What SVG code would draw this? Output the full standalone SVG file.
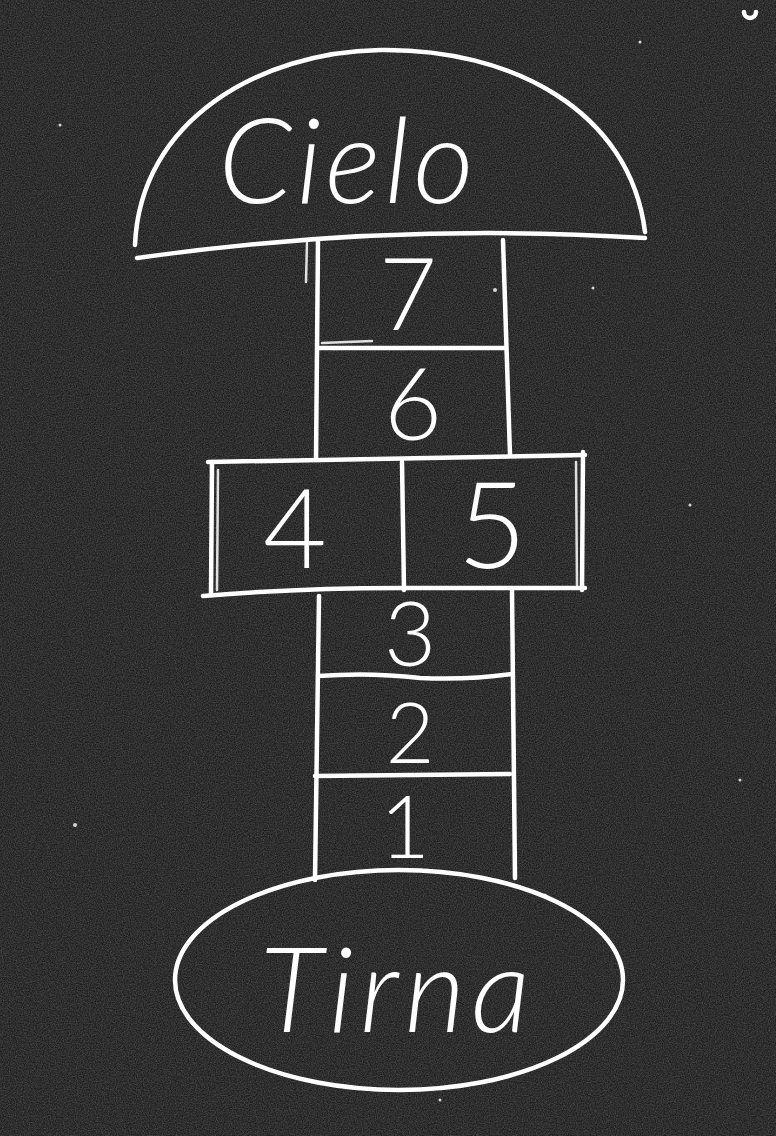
<svg xmlns="http://www.w3.org/2000/svg" width="776" height="1136" viewBox="0 0 776 1136">
<defs>
<filter id="grain" x="0" y="0" width="100%" height="100%">
<feTurbulence type="fractalNoise" baseFrequency="0.85" numOctaves="2" seed="3" result="n"/>
<feColorMatrix in="n" type="matrix" values="0 0 0 0 1  0 0 0 0 1  0 0 0 0 1  0 0 0 0.3 -0.08"/>
</filter>
</defs>
<style>
.chalk{fill:none;stroke:#fff;stroke-width:4.5;stroke-linecap:round;stroke-linejoin:round}
.thin{fill:none;stroke:#fff;stroke-width:2.5;stroke-linecap:round;opacity:.85}
.num{fill:#fff;font-family:"Lato","Open Sans","DejaVu Sans",sans-serif;font-weight:300;text-anchor:middle}
.word{fill:#fff;font-family:"Lato","Open Sans","DejaVu Sans",sans-serif;font-weight:300;font-style:italic;text-anchor:middle}
.speck{fill:#fff;opacity:.8}
</style>
<rect width="776" height="1136" fill="#1f1f1f"/>
<rect width="776" height="1136" filter="url(#grain)"/>
<g id="specks">
<circle class="speck" cx="296" cy="63" r="1.5"/>
<circle class="speck" cx="60" cy="125" r="1.5"/>
<circle class="speck" cx="640" cy="42" r="1.5"/>
<circle class="speck" cx="75" cy="825" r="2"/>
<circle class="speck" cx="690" cy="505" r="1.5"/>
<circle class="speck" cx="545" cy="895" r="1.5"/>
<circle class="speck" cx="593" cy="288" r="1.5"/>
<circle class="speck" cx="440" cy="1100" r="1.5"/>
<circle class="speck" cx="495" cy="290" r="2"/>
<circle class="speck" cx="740" cy="780" r="1.5"/>
</g>
<path class="chalk" d="M744,12 A6,6 0 0 0 756,12" stroke-width="3"/>
<g id="cielo">
<path class="chalk" d="M135,245 C140,120 260,52 380,50 C510,48 630,110 645,232"/>
<path class="chalk" d="M137,258 Q390,222 645,238" stroke-width="5.5"/>
<text class="word" x="348" y="203" font-size="118" letter-spacing="4">Cielo</text>
</g>
<g id="column">
<path class="chalk" d="M318,240 L316,460"/>
<path class="chalk" d="M319,596 L315,880"/>
<path class="thin" d="M307,242 L306,282"/>
<path class="chalk" d="M503,240 L510,455"/>
<path class="chalk" d="M512,590 L515,878"/>
</g>
<g id="cell7">
<path class="chalk" d="M318,348 L505,348" stroke-width="3.5"/>
<path class="thin" d="M322,343 L372,341"/>
<text class="num" x="408" y="330" font-size="100">7</text>
</g>
<g id="cell6">
<text class="num" x="413" y="440" font-size="100">6</text>
</g>
<g id="cell45">
<path class="chalk" d="M208,462 L585,455" stroke-width="5.5"/>
<path class="chalk" d="M212,462 L211,595"/>
<path class="thin" d="M218,470 L217,590"/>
<path class="chalk" d="M583,452 L582,590"/>
<path class="thin" d="M576,462 L577,585"/>
<path class="chalk" d="M203,596 Q300,588 400,588 L585,588" stroke-width="5.5"/>
<path class="chalk" d="M402,462 L404,590"/>
<text class="num" x="295" y="568" font-size="110">4</text>
<text class="num" x="492" y="568" font-size="120">5</text>
</g>
<g id="cell3">
<text class="num" x="410" y="666" font-size="90">3</text>
</g>
<g id="cell2">
<path class="chalk" d="M318,676 Q370,672 420,678 Q470,680 512,674"/>
<text class="num" x="410" y="763" font-size="84">2</text>
</g>
<g id="cell1">
<path class="chalk" d="M315,776 L510,774" stroke-width="4"/>
<text class="num" x="405" y="858" font-size="86">1</text>
</g>
<g id="tirna">
<ellipse class="chalk" cx="399" cy="980" rx="224" ry="110"/>
<text class="word" x="398" y="1032" font-size="118" letter-spacing="6">Tirna</text>
</g>
</svg>
